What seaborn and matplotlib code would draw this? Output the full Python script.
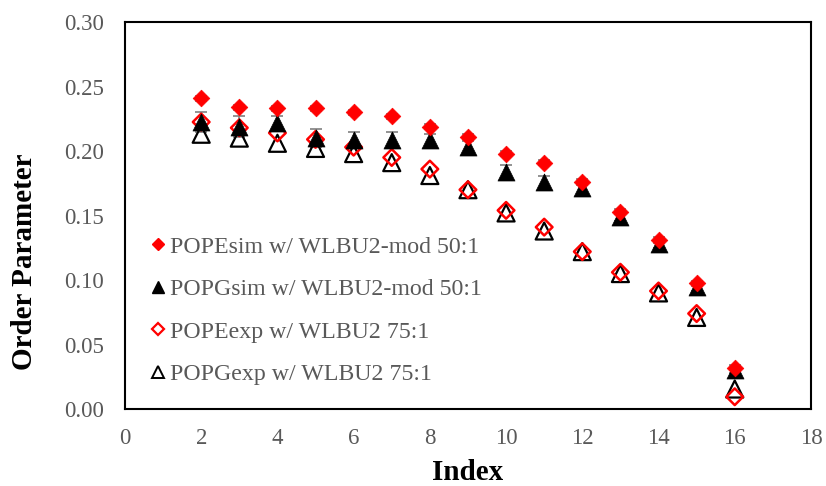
import matplotlib
matplotlib.use("Agg")
import matplotlib.pyplot as plt
import seaborn as sns
import pandas as pd
from matplotlib.lines import Line2D

index = [2, 3, 4, 5, 6, 7, 8, 9, 10, 11, 12, 13, 14, 15, 16]
pope_sim = [0.241, 0.234, 0.233, 0.233, 0.230, 0.227, 0.219, 0.211, 0.198, 0.191, 0.176, 0.153, 0.131, 0.0975, 0.032]
pope_sim_err = [0.002, 0.002, 0.002, 0.002, 0.002, 0.002, 0.002, 0.002, 0.002, 0.002, 0.002, 0.002, 0.002, 0.002, 0.002]
popg_sim = [0.2225, 0.219, 0.222, 0.210, 0.2085, 0.2085, 0.2085, 0.203, 0.184, 0.176, 0.171, 0.149, 0.128, 0.0947, 0.030]
popg_sim_err = [0.008, 0.008, 0.005, 0.007, 0.006, 0.006, 0.005, 0.005, 0.005, 0.005, 0.004, 0.003, 0.003, 0.003, 0.002]
pope_exp = [0.2225, 0.218, 0.214, 0.209, 0.203, 0.195, 0.186, 0.170, 0.154, 0.141, 0.122, 0.106, 0.0915, 0.074, 0.0095]
popg_exp = [0.213, 0.210, 0.206, 0.202, 0.198, 0.191, 0.181, 0.170, 0.152, 0.138, 0.122, 0.105, 0.090, 0.071, 0.0155]

labels = ["POPEsim w/ WLBU2-mod 50:1", "POPGsim w/ WLBU2-mod 50:1",
          "POPEexp w/ WLBU2 75:1", "POPGexp w/ WLBU2 75:1"]
x_ticks = [0, 2, 4, 6, 8, 10, 12, 14, 16, 18]
y_ticks = [0.00, 0.05, 0.10, 0.15, 0.20, 0.25, 0.30]

sns.set_theme(style="white")
plt.rcParams['font.family'] = ['Liberation Serif', 'DejaVu Serif']

fig = plt.figure(figsize=(8.26, 4.86), dpi=100)
ax = fig.add_axes([0.1513, 0.1584, 0.8305, 0.7963])

df = pd.DataFrame({"Index": index, "pope_sim": pope_sim, "popg_sim": popg_sim,
                   "pope_exp": pope_exp, "popg_exp": popg_exp})

# error bars (grey) behind markers
ax.errorbar(index, popg_sim, yerr=popg_sim_err, fmt="none", ecolor="#808080",
            elinewidth=1.2, capsize=4, capthick=1.2, zorder=1)
ax.errorbar(index, pope_sim, yerr=pope_sim_err, fmt="none", ecolor="#808080",
            elinewidth=1.2, capsize=4, capthick=1.2, zorder=1)

sns.scatterplot(data=df, x="Index", y="popg_exp", marker="^", s=150,
                facecolor="none", edgecolor="black", linewidth=1.6, ax=ax, zorder=2)
sns.scatterplot(data=df, x="Index", y="pope_exp", marker="D", s=72,
                facecolor="none", edgecolor="#FF0000", linewidth=1.8, ax=ax, zorder=3)
sns.scatterplot(data=df, x="Index", y="popg_sim", marker="^", s=150,
                color="black", edgecolor="black", linewidth=0.5, ax=ax, zorder=4)
sns.scatterplot(data=df, x="Index", y="pope_sim", marker="D", s=72,
                color="#FF0000", edgecolor="#FF0000", linewidth=0.5, ax=ax, zorder=5)

ax.set_xlim(0, 18)
ax.set_ylim(0, 0.30)
ax.set_xticks(x_ticks)
ax.set_yticks(y_ticks)
ax.set_xticklabels([str(t) for t in x_ticks])
ax.set_yticklabels([f"{t:.2f}" for t in y_ticks])
ax.tick_params(axis="y", length=0, labelsize=16.5, labelcolor="#595959", pad=15)
ax.tick_params(axis="x", length=0, labelsize=16.5, labelcolor="#595959", pad=14)

ax.set_xlabel("Index", fontsize=21, fontweight="bold", color="black")
ax.set_ylabel("Order Parameter", fontsize=21, fontweight="bold", color="black")
ax.xaxis.set_label_coords(0.5, -0.163)
ax.xaxis.label.set_va("center")
ax.yaxis.set_label_coords(-0.146, 0.38)
ax.yaxis.label.set_va("center")

for sp in ax.spines.values():
    sp.set_visible(True)
    sp.set_color("black")
    sp.set_linewidth(1.5)

handles = [
    Line2D([], [], linestyle="none", marker="D", markersize=6, markerfacecolor="#FF0000", markeredgecolor="#FF0000"),
    Line2D([], [], linestyle="none", marker="^", markersize=8.5, markerfacecolor="black", markeredgecolor="black"),
    Line2D([], [], linestyle="none", marker="D", markersize=6, markerfacecolor="none", markeredgecolor="#FF0000", markeredgewidth=1.6),
    Line2D([], [], linestyle="none", marker="^", markersize=8.5, markerfacecolor="none", markeredgecolor="black", markeredgewidth=1.4),
]
leg = ax.legend(handles, labels, loc="upper left", bbox_to_anchor=(0.026, 0.472),
                frameon=False, fontsize=17.2, handlelength=0.5, handletextpad=0.25,
                labelspacing=0.87, borderaxespad=0)
for t in leg.get_texts():
    t.set_color("#595959")

fig.savefig("out.png", dpi=100)
